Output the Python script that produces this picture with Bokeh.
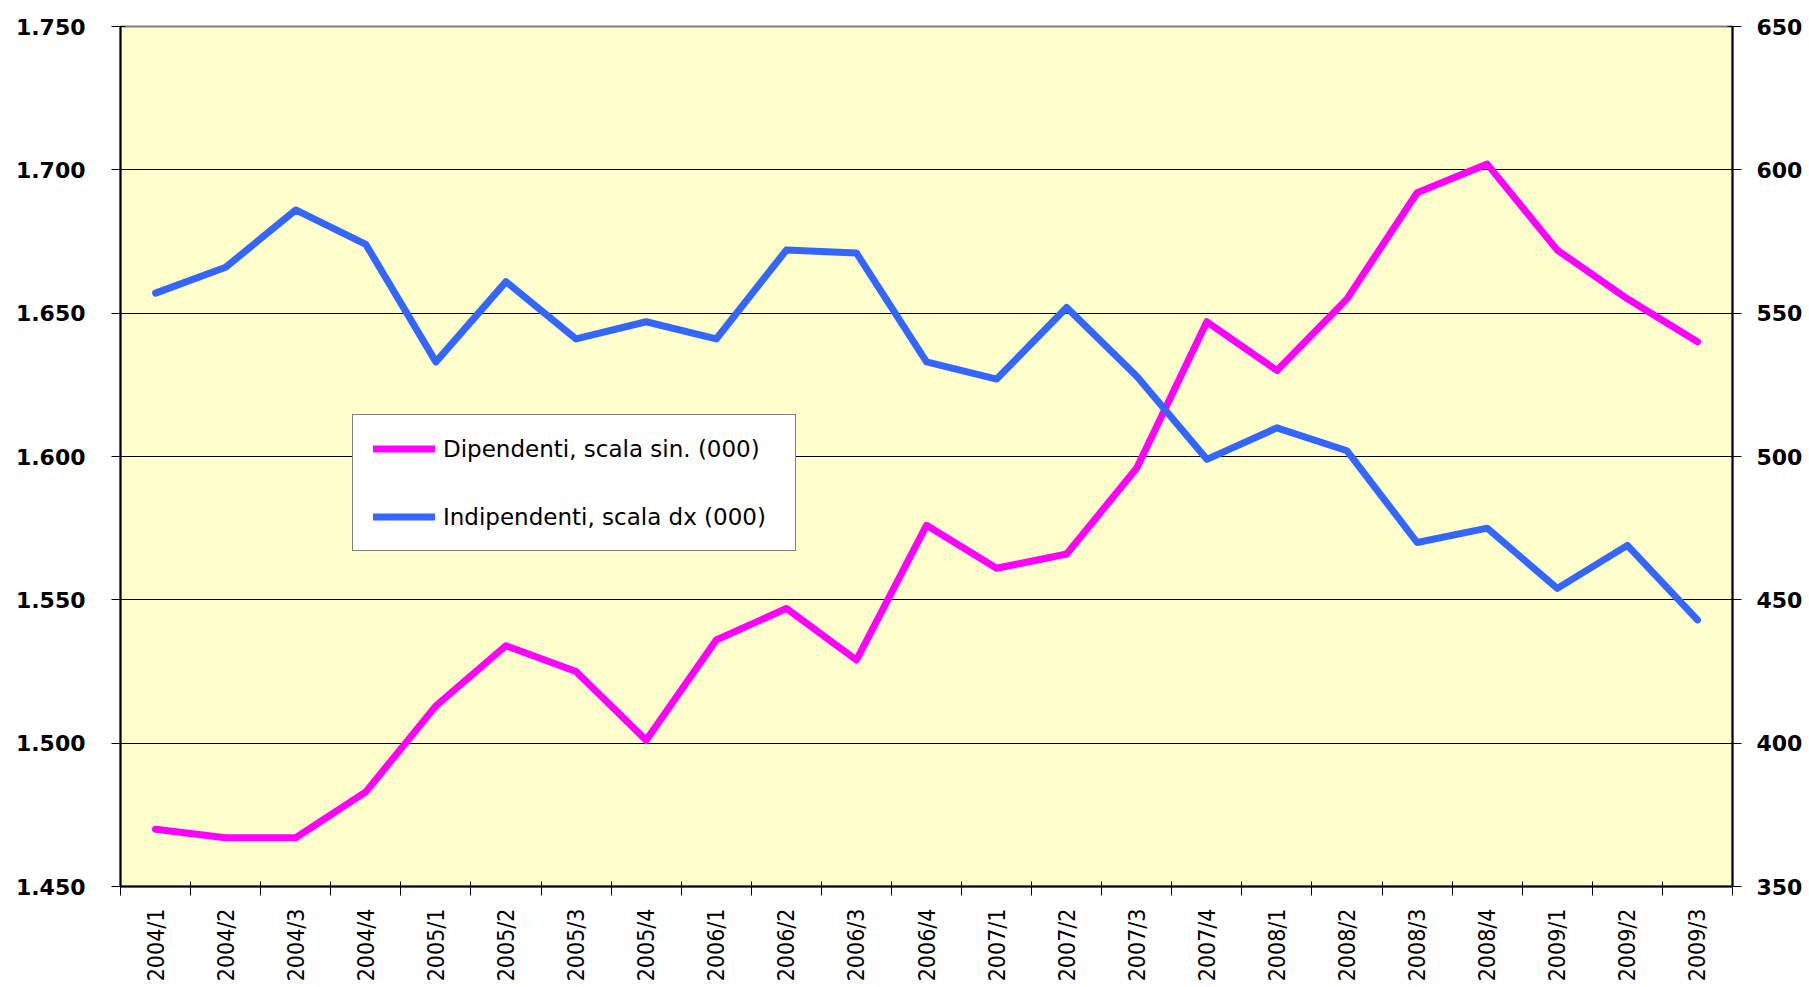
import math
from bokeh.plotting import figure
from bokeh.models import (Range1d, LinearAxis, FixedTicker, Legend,
                          LegendItem, ColumnDataSource, Grid)
from bokeh.embed import file_html
from bokeh.resources import INLINE

quarters = ["2004/1", "2004/2", "2004/3", "2004/4",
            "2005/1", "2005/2", "2005/3", "2005/4",
            "2006/1", "2006/2", "2006/3", "2006/4",
            "2007/1", "2007/2", "2007/3", "2007/4",
            "2008/1", "2008/2", "2008/3", "2008/4",
            "2009/1", "2009/2", "2009/3"]
dipendenti = [1470, 1467, 1467, 1483, 1513, 1534, 1525, 1501, 1536, 1547, 1529, 1576,
              1561, 1566, 1596, 1647, 1630, 1655, 1692, 1702, 1672, 1655, 1640]
indipendenti = [557, 566, 586, 574, 533, 561, 541, 547, 541, 572, 571, 533,
                527, 552, 528, 499, 510, 502, 470, 475, 454, 469, 443]
left_ticks = [1450, 1500, 1550, 1600, 1650, 1700, 1750]
right_ticks = [350, 400, 450, 500, 550, 600, 650]
label_dip = "Dipendenti, scala sin. (000)"
label_ind = "Indipendenti, scala dx (000)"

n = len(quarters)
xpos = [i + 0.5 for i in range(n)]  # category centres
src = ColumnDataSource(dict(x=xpos, q=quarters, dip=dipendenti, ind=indipendenti))

p = figure(width=1809, height=987, output_backend="svg", toolbar_location=None,
           x_range=Range1d(0, n),
           y_range=Range1d(left_ticks[0], left_ticks[-1]),
           x_axis_type=None, y_axis_type=None,
           min_border_left=120, min_border_right=77, min_border_top=26,
           min_border_bottom=101)
p.background_fill_color = "#FFFFCC"
p.border_fill_color = "white"
p.outline_line_color = "#808080"
p.outline_line_width = 2

p.extra_y_ranges = {"right": Range1d(right_ticks[0], right_ticks[-1])}

bold = dict(major_label_text_font="DejaVu Sans", major_label_text_font_style="bold",
            major_label_text_font_size="22px", major_label_text_color="black",
            axis_line_color="black", axis_line_width=2,
            major_tick_line_color="black", major_tick_line_width=1,
            major_tick_in=5, major_tick_out=9, minor_tick_line_color=None)

ly = LinearAxis(ticker=FixedTicker(ticks=left_ticks),
                major_label_overrides={t: f"{t/1000:.3f}" for t in left_ticks},
                major_label_standoff=26, **bold)
p.add_layout(ly, "left")

ry = LinearAxis(y_range_name="right", ticker=FixedTicker(ticks=right_ticks),
                major_label_standoff=15, **bold)
p.add_layout(ry, "right")

# labels at category centres, tick marks (minor) at category boundaries
cx = LinearAxis(ticker=FixedTicker(ticks=xpos, minor_ticks=list(range(n + 1))),
                major_label_overrides={x: q for x, q in zip(xpos, quarters)},
                major_label_orientation=math.pi / 2,
                major_label_text_font="DejaVu Sans Condensed",
                major_label_text_font_size="23px", major_label_text_color="black",
                major_label_standoff=13, axis_line_color="black", axis_line_width=2,
                major_tick_line_color=None, major_tick_in=0, major_tick_out=9,
                minor_tick_line_color="black", minor_tick_line_width=1,
                minor_tick_in=5, minor_tick_out=9)
p.add_layout(cx, "below")

g = Grid(dimension=1, ticker=FixedTicker(ticks=left_ticks[1:-1]),
         grid_line_color="black", grid_line_width=1)
p.add_layout(g, "center")

r1 = p.line("x", "dip", source=src, line_color="#FF00FF", line_width=7,
            line_join="round", line_cap="round")
r2 = p.line("x", "ind", source=src, y_range_name="right", line_color="#3366FF",
            line_width=7, line_join="round", line_cap="round")

legend = Legend(items=[LegendItem(label=label_dip, renderers=[r1]),
                       LegendItem(label=label_ind, renderers=[r2])],
                location=(232, 335), orientation="vertical",
                label_text_font="DejaVu Sans", label_text_font_size="23px",
                label_text_color="black", glyph_width=62, glyph_height=27,
                label_standoff=8, label_height=27, label_width=332,
                spacing=41, padding=20,
                border_line_color="black", border_line_width=1,
                background_fill_color="white", background_fill_alpha=1.0,
                margin=0)
p.add_layout(legend, "center")

open("out.html", "w").write(file_html(p, INLINE))
